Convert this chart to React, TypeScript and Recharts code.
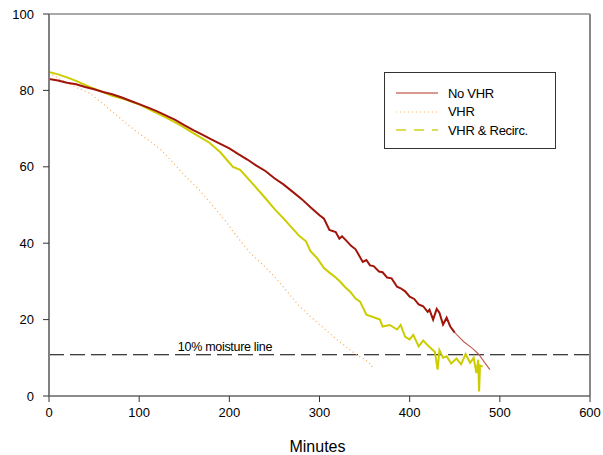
import React from 'react';
import { LineChart, Line, XAxis, YAxis, ReferenceLine } from 'recharts';

// No VHR
const noVhrMinutes = [0, 10, 20, 30, 40, 50, 60, 70, 80, 90, 100, 110, 120, 130, 140, 150, 160, 170, 180, 190, 200, 210, 220, 230, 240, 250, 260, 270, 280, 290, 300, 305, 311, 318, 322, 325, 330, 335, 340, 348, 352, 356, 360, 366, 370, 375, 380, 386, 390, 395, 400, 405, 410, 415, 420, 422, 426, 430, 433, 437, 441, 445, 450];
const noVhrMoisture = [83.0, 82.6, 82.0, 81.6, 80.9, 80.3, 79.6, 79.0, 78.2, 77.3, 76.4, 75.5, 74.5, 73.4, 72.3, 70.9, 69.6, 68.4, 67.2, 66.0, 64.8, 63.3, 61.9, 60.3, 58.9, 57.0, 55.4, 53.5, 51.6, 49.4, 47.3, 46.4, 43.5, 42.9, 41.2, 41.8, 40.6, 39.3, 38.4, 35.1, 35.6, 34.2, 34.0, 32.6, 32.4, 31.0, 30.8, 28.6, 28.2, 27.4, 26.0, 25.4, 24.0, 23.5, 22.0, 22.6, 20.0, 22.8, 21.8, 18.7, 20.5, 18.2, 16.6];
const noVhrTailMinutes = [450, 460, 470, 477, 483, 489];
const noVhrTailMoisture = [16.6, 14.2, 12.4, 10.8, 8.8, 6.9];

// VHR
const vhrMinutes = [0, 10, 20, 30, 45, 55, 68, 80, 97, 110, 123, 138, 153, 167, 181, 195, 209, 223, 237, 250, 264, 278, 290, 304, 318, 330, 340, 348, 355, 360];
const vhrMoisture = [84.6, 83.2, 82.0, 80.8, 79.3, 77.4, 74.9, 72.5, 69.2, 67.0, 64.7, 61.0, 57.1, 53.9, 50.0, 46.0, 41.6, 37.5, 34.4, 31.3, 27.4, 23.4, 20.8, 17.9, 15.0, 12.8, 11.0, 9.8, 8.8, 7.0];

// VHR & Recirc.
const recircMinutes = [0, 10, 20, 30, 45, 55, 70, 85, 101, 115, 130, 145, 160, 178, 190, 204, 212, 225, 241, 250, 260, 270, 278, 285, 290, 297, 305, 311, 318, 323, 328, 334, 340, 345, 352, 360, 367, 370, 378, 386, 390, 395, 400, 404, 410, 415, 422, 428, 431, 433, 437, 441, 446, 452, 457, 462, 467, 471, 474, 476, 477, 478, 481];
const recircMoisture = [84.8, 84.2, 83.4, 82.5, 80.9, 80.0, 78.6, 77.6, 76.2, 74.6, 72.9, 71.0, 68.8, 66.3, 63.8, 60.0, 59.2, 55.8, 51.5, 49.0, 46.5, 43.9, 41.8, 40.5, 37.9, 36.2, 33.5, 32.3, 31.0, 29.9, 28.6, 27.3, 25.5, 24.7, 21.3, 20.6, 20.0, 18.2, 18.6, 17.4, 18.6, 15.5, 14.8, 16.0, 13.0, 14.5, 12.8, 11.5, 6.9, 12.0, 10.0, 10.4, 8.5, 9.8, 8.3, 11.0, 8.7, 10.0, 6.0, 9.5, 1.2, 8.0, 7.7];

const xTicks = [0, 100, 200, 300, 400, 500, 600];
const yTicks = [0, 20, 40, 60, 80, 100];
const moistureLine = 10.8;

const toPoints = (xs: number[], ys: number[]) => xs.map((x, i) => ({ x, y: ys[i] }));

const noVhrData = toPoints(noVhrMinutes, noVhrMoisture);
const noVhrTail = toPoints(noVhrTailMinutes, noVhrTailMoisture);
const vhrData = toPoints(vhrMinutes, vhrMoisture);
const recircData = toPoints(recircMinutes, recircMoisture);

const FONT = '"Liberation Sans", Arial, sans-serif';

const legendItems = [
  { label: 'No VHR', stroke: '#B8352A', dash: undefined as string | undefined, width: 1.2 },
  { label: 'VHR', stroke: '#F5B870', dash: '1 3', width: 1 },
  { label: 'VHR & Recirc.', stroke: '#DDDD55', dash: '10 8', width: 2 },
];

const LegendBox = () => (
  <div
    style={{
      position: 'absolute',
      left: 384,
      top: 72,
      width: 172,
      height: 77,
      border: '1px solid #333',
      background: '#fff',
      boxSizing: 'border-box',
      fontFamily: FONT,
      fontSize: 13,
      color: '#000',
    }}
  >
    {legendItems.map((it, i) => (
      <div key={it.label} style={{ position: 'absolute', left: 10, top: 11 + i * 18.5, height: 18, display: 'flex', alignItems: 'center' }}>
        <svg width={44} height={18} style={{ display: 'block' }}>
          <line x1={1} y1={9} x2={43} y2={9} stroke={it.stroke} strokeWidth={it.width} strokeDasharray={it.dash} />
        </svg>
        <span style={{ marginLeft: 9, whiteSpace: 'nowrap', letterSpacing: -0.3 }}>{it.label}</span>
      </div>
    ))}
  </div>
);

const MinutesLabel = (props: any) => {
  const vb = props.viewBox || { x: 49, y: 396, width: 541, height: 59 };
  return (
    <text x={vb.x + vb.width / 2 - 2} y={vb.y + 56} textAnchor="middle" fontFamily={FONT} fontSize={16} fill="#000">
      Minutes
    </text>
  );
};

const MoistureLabel = (props: any) => {
  const vb = props.viewBox || { x: 49, y: 355 };
  return (
    <text x={vb.x + 176} y={vb.y - 4} textAnchor="middle" fontFamily={FONT} fontSize={12.5} fill="#000" letterSpacing={-0.3}>
      10% moisture line
    </text>
  );
};

export default function App() {
  return (
    <div style={{ position: 'absolute', left: 0, top: 0, width: 603, height: 455, background: '#fff' }}>
      <LineChart width={603} height={455} margin={{ top: 14, right: 13, left: 0, bottom: 0 }}>
        <XAxis
          dataKey="x"
          type="number"
          domain={[0, 600]}
          ticks={xTicks}
          allowDataOverflow
          axisLine={{ stroke: '#666', strokeWidth: 1.5 }}
          tickLine={{ stroke: '#333' }}
          tickSize={6}
          tickMargin={6}
          height={59}
          tick={{ fontFamily: FONT, fontSize: 13, fill: '#000' }}
          label={MinutesLabel}
        />
        <YAxis
          type="number"
          domain={[0, 100]}
          ticks={yTicks}
          allowDataOverflow
          width={49}
          axisLine={{ stroke: '#808080', strokeWidth: 2 }}
          tickLine={{ stroke: '#333' }}
          tickSize={6}
          tickMargin={9}
          tick={{ fontFamily: FONT, fontSize: 13, fill: '#000' }}
        />
        <ReferenceLine y={100} stroke="#555" strokeWidth={1.2} />
        <ReferenceLine x={600} stroke="#888" strokeWidth={2} />
        <ReferenceLine y={moistureLine} stroke="#000" strokeWidth={1.2} strokeDasharray="15 6" label={MoistureLabel} />
        <Line data={vhrData} dataKey="y" name="VHR" stroke="#FFA848" strokeWidth={1.2} strokeDasharray="1 3" dot={false} isAnimationActive={false} />
        <Line data={recircData} dataKey="y" name="VHR & Recirc." stroke="#CCCC00" strokeWidth={2} dot={false} isAnimationActive={false} />
        <Line data={noVhrTail} dataKey="y" name="No VHR tail" stroke="#C06058" strokeWidth={1.2} dot={false} isAnimationActive={false} />
        <Line data={noVhrData} dataKey="y" name="No VHR" stroke="#A0140A" strokeWidth={2} dot={false} isAnimationActive={false} />
      </LineChart>
      <LegendBox />
    </div>
  );
}
